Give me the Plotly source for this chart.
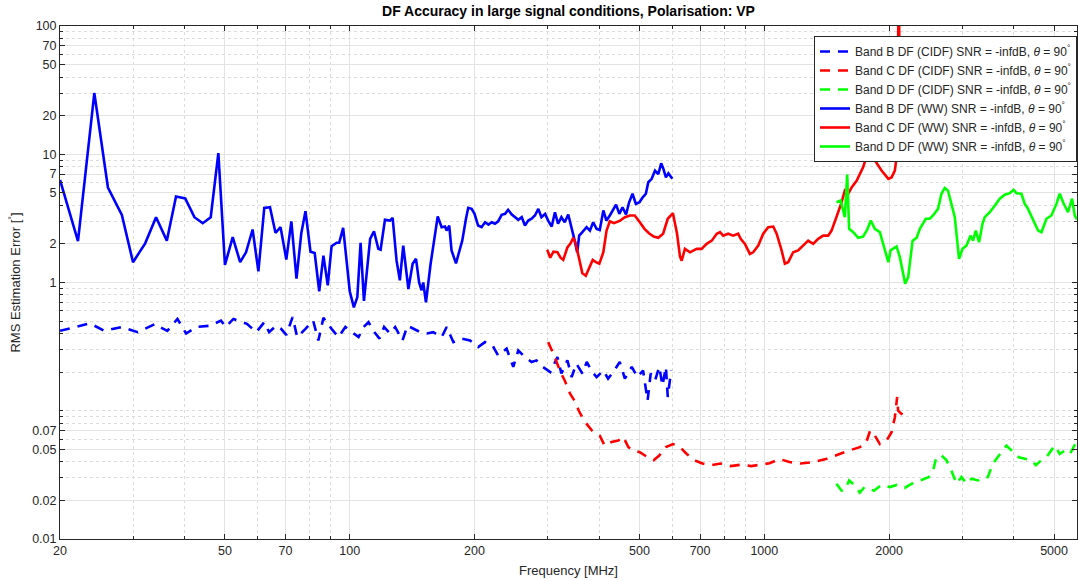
import math
import plotly.graph_objects as go

# ---------------- data (frequency MHz, RMS error deg) ----------------
band_b_cidf = [(20,0.42),(23.6,0.48),(25.6,0.42),(28.2,0.45),(30.8,0.41),(34,0.476),(34.8,0.45),(36.3,0.42),
 (38.4,0.52),(40.3,0.40),(42.7,0.45),(46.1,0.46),(48.9,0.505),(50.2,0.45),(52.4,0.52),(56.5,0.476),(59.5,0.41),
 (62.2,0.49),(63.9,0.41),(66.4,0.46),(68.3,0.435),(70.3,0.39),(72.8,0.537),(74.7,0.375),(78.2,0.435),(81.6,0.505),
 (84,0.353),(86.4,0.53),(90.4,0.435),(93.9,0.375),(97.6,0.45),(101,0.41),(105,0.375),(108,0.45),(111,0.49),
 (114,0.42),(118,0.365),(121,0.45),(125,0.40),(128.7,0.45),(134,0.353),(137.8,0.46),(142.6,0.435),(148,0.41),
 (153.5,0.40),(159,0.41),(166.6,0.375),(171.3,0.45),(177.8,0.343),(186,0.365),(195,0.353),(204,0.314),(212,0.343),
 (221,0.323),(228,0.27),(239,0.305),(248,0.22),(255,0.295),(264.6,0.262),(274.6,0.24),(282,0.247),(292,0.22),
 (304.5,0.20),(317,0.262),(324,0.195),(335,0.247),(343,0.183),(352,0.233),(364,0.195),(373,0.24),(385,0.20),
 (394,0.183),(409,0.206),(420,0.178),(432,0.20),(448,0.24),(461,0.178),(479,0.22),(494,0.183),(510,0.206),
 (523,0.12),(532,0.195),(545,0.172),(558,0.22),(568,0.157),(579,0.22),(585,0.128),(596,0.206)]

band_c_cidf = [(301,0.343),(310,0.278),(322.5,0.20),(330,0.172),(340,0.136),(350,0.117),(357,0.10),(367,0.084),
 (384,0.07),(401,0.064),(412,0.0535),(428,0.057),(444,0.0585),(457,0.0625),(470,0.052),(484,0.049),(501,0.0475),
 (523,0.0434),(541,0.0412),(558,0.0448),(579,0.052),(602,0.055),(626,0.052),(650,0.046),(678,0.0412),(709,0.0388),
 (746,0.0376),(784,0.0388),(830,0.037),(880,0.038),(930,0.037),(980,0.038),(1030,0.039),(1090,0.042),(1150,0.0398),
 (1222,0.0388),(1312,0.0398),(1415,0.0423),(1507,0.0457),(1602,0.049),(1700,0.052),(1763,0.057),(1800,0.07),
 (1838,0.066),(1900,0.055),(1972,0.0585),(2028,0.068),(2065,0.089),(2092,0.128),(2103,0.10),(2140,0.095),(2180,0.092)]

band_d_cidf = [(1493,0.027),(1536,0.0238),(1564,0.024),(1602,0.0286),(1650,0.0264),(1700,0.023),(1745,0.0254),
 (1838,0.0238),(1918,0.0264),(2010,0.0254),(2085,0.0264),(2180,0.025),(2270,0.027),(2390,0.0286),(2490,0.0303),
 (2553,0.034),(2600,0.0434),(2675,0.0448),(2750,0.0412),(2828,0.034),(2910,0.027),(2990,0.0305),(3074,0.027),
 (3160,0.0295),(3280,0.0286),(3370,0.0303),(3460,0.0303),(3560,0.0388),(3700,0.046),(3840,0.0535),(3910,0.0505),
 (3993,0.0475),(4110,0.0434),(4250,0.0423),(4410,0.0412),(4520,0.0376),(4660,0.0412),(4790,0.0434),(4930,0.049),
 (5020,0.0535),(5160,0.046),(5310,0.049),(5460,0.046),(5560,0.052),(5680,0.0585)]

band_b_ww = [(20,6.3),(22.1,2.1),(24.2,30),(26.1,5.5),(28.2,3.37),(30,1.44),(32.1,2.02),(34.1,3.23),(36.2,2.12),
 (38.1,4.68),(40.1,4.53),(42.2,3.23),(44.2,2.9),(46.2,3.23),(48.2,10.2),(50,1.37),(52.2,2.26),(54.4,1.44),(56.2,1.72),
 (58.3,2.59),(60.2,1.22),(62.2,3.82),(64.2,3.86),(66.2,2.44),(68.1,2.70),(70.3,1.51),(72.3,3.0),(74.4,1.07),
 (76.4,2.42),(78.2,3.6),(80.4,1.74),(82.3,1.70),(84.4,0.855),(86.4,1.62),(88.5,0.95),(90.4,1.92),(93,2.04),
 (94.3,2.04),(96.4,2.67),(100,0.855),(102.3,0.64),(104.3,0.77),(106.2,2.04),(108.2,0.72),(112,2.19),(114.4,2.51),
 (117.2,1.83),(118.7,1.80),(121.6,3.08),(125,3.04),(126.9,3.19),(129.7,1.48),(132.1,1.04),(134.6,1.94),(138.5,0.89),
 (141.8,1.40),(144.5,1.53),(147,1.0),(149,0.87),(150.4,1.0),(152.7,0.70),(156.7,1.40),(163,3.27),(166.6,2.70),
 (169.7,2.73),(171.3,2.54),(173.8,2.78),(176,1.78),(180.4,1.41),(184.4,1.88),(186.8,2.12),(190.7,3.14),(193.1,3.82),
 (196.8,3.75),(200,3.43),(204,2.78),(208,2.70),(212,2.95),(216,2.83),(220,2.95),(224,2.87),(228,3.0),(232.5,3.37),
 (237,3.43),(241,3.69),(246,3.39),(250,3.27),(255,3.08),(260,3.23),(264.6,2.78),(269.5,3.04),(274.6,3.14),
 (279.7,3.33),(285,3.75),(290,3.23),(296,3.43),(301,3.04),(307,2.73),(312.6,3.53),(318,2.87),(324,3.23),(330,2.95),
 (336.6,3.39),(343,2.70),(348,2.19),(353.7,1.72),(357.7,2.32),(364,2.47),(372.7,2.70),(379.6,2.54),(386.6,2.95),
 (394,2.62),(401,2.57),(409,3.65),(416,3.04),(424,3.33),(432,3.75),(439,4.05),(447,3.43),(455,3.86),(464,3.39),
 (472,4.22),(481,4.92),(490,4.10),(500,4.22),(509,4.62),(518,4.92),(525,6.05),(535,6.43),(545,7.46),(555,7.0),
 (564,8.5),(571,7.7),(579,6.6),(587,7.1),(600,6.43)]

band_c_ww = [(299.5,1.80),(304.5,1.56),(310,1.74),(317,1.72),(322.5,1.56),(327.4,1.50),(335,1.88),(341,2.02),
 (346,2.23),(350,2.06),(357,1.57),(364,1.18),(371,1.13),(378,1.32),(385.5,1.50),(392.6,1.44),(400,1.40),(409,1.72),
 (416.4,2.54),(424,3.0),(434,2.90),(449,3.04),(461,3.23),(474,3.33),(487,3.33),(501,2.95),(514,2.62),(527,2.42),
 (541,2.28),(555,2.23),(570,2.40),(585,3.14),(602,3.47),(616,2.40),(626,1.6),(632,1.48),(643.5,1.83),(662,1.72),
 (687,1.83),(706,1.83),(726,2.0),(747,2.12),(768,2.40),(782,2.47),(796,2.32),(818,2.40),(841,2.32),(865,2.40),
 (877,2.19),(898,2.0),(923,1.67),(940,1.72),(967,1.94),(994,2.40),(1022,2.70),(1051,2.73),(1071,2.40),(1101,1.78),
 (1121,1.40),(1142,1.44),(1174,1.72),(1207,1.78),(1241,1.94),(1276,2.12),(1312,2.0),(1349,2.19),(1387,2.32),
 (1426,2.32),(1453,2.54),(1480,2.95),(1507,3.53),(1536,4.22),(1564,5.2),(1594,4.92),(1624,5.5),(1670,6.2),
 (1731,7.9),(1763,9.5),(1800,10.4),(1848,8.95),(1918,7.46),(1992,6.43),(2028,6.6),(2065,7.46),(2085,9.5),
 (2097,12.8),(2100,400),(2110,400),(2125,9.8),(2150,10.1),(2180,10.2)]

band_d_ww = [(1493,4.22),(1528,4.36),(1564,3.23),(1585,6.95),(1602,2.62),(1639,2.47),(1685,2.23),(1731,2.28),
 (1770,2.57),(1807,3.04),(1848,2.62),(1900,2.47),(1946,1.88),(1992,1.44),(2017,1.78),(2085,1.91),(2124,1.57),
 (2187,0.98),(2224,1.10),(2279,2.12),(2330,2.23),(2373,2.62),(2452,3.14),(2507,3.14),(2553,3.33),(2625,3.75),
 (2675,4.92),(2725,5.46),(2775,5.2),(2828,4.10),(2881,3.23),(2950,1.53),(3007,1.83),(3074,1.94),(3143,2.32),
 (3189,2.12),(3237,2.54),(3297,2.06),(3360,2.87),(3403,3.23),(3499,3.53),(3599,3.98),(3699,4.5),(3803,4.83),
 (3910,4.97),(3993,5.28),(4058,4.97),(4172,4.92),(4250,4.10),(4328,3.75),(4450,3.04),(4576,2.54),(4663,2.47),
 (4793,3.14),(4928,3.33),(5067,4.10),(5161,4.92),(5257,4.22),(5404,3.53),(5526,4.5),(5610,3.33),(5680,3.1)]

x_ticks = [20, 50, 70, 100, 200, 500, 700, 1000, 2000, 5000]
x_minor = [30, 40, 60, 80, 90, 300, 400, 600, 800, 900, 3000, 4000]
y_ticks = [0.01, 0.02, 0.05, 0.07, 1, 2, 5, 7, 10, 20, 50, 70, 100]
y_minor = [0.03, 0.04, 0.06, 0.08, 0.09, 0.1, 0.2, 0.3, 0.4, 0.5, 0.6, 0.7, 0.8, 0.9,
           3, 4, 6, 8, 9, 30, 40, 60, 80, 90]

series = [
    ("Band B DF (CIDF) SNR = -infdB, <i>θ</i> = 90<sup>°</sup>", band_b_cidf, "#0000ff", "10px,8px"),
    ("Band C DF (CIDF) SNR = -infdB, <i>θ</i> = 90<sup>°</sup>", band_c_cidf, "#ff0000", "10px,8px"),
    ("Band D DF (CIDF) SNR = -infdB, <i>θ</i> = 90<sup>°</sup>", band_d_cidf, "#00ff00", "10px,8px"),
    ("Band B DF (WW) SNR = -infdB, <i>θ</i> = 90<sup>°</sup>", band_b_ww, "#0000ff", "solid"),
    ("Band C DF (WW) SNR = -infdB, <i>θ</i> = 90<sup>°</sup>", band_c_ww, "#ff0000", "solid"),
    ("Band D DF (WW) SNR = -infdB, <i>θ</i> = 90<sup>°</sup>", band_d_ww, "#00ff00", "solid"),
]

fig = go.Figure()
for name, pts, color, dash in series:
    fig.add_trace(go.Scatter(
        x=[p[0] for p in pts], y=[p[1] for p in pts], mode="lines", name=name,
        line=dict(color=color, width=2.6, dash=dash)))

axis_col = "#262626"
font_fam = "Liberation Sans, Arial, sans-serif"

fig.update_layout(
    width=1078, height=580,
    margin=dict(l=60, r=1, t=26, b=41, autoexpand=False),
    paper_bgcolor="white", plot_bgcolor="white",
    font=dict(family=font_fam, size=12, color=axis_col),
    title=dict(text="<b>DF Accuracy in large signal conditions, Polarisation: VP</b>",
               x=0.5, xref="paper", xanchor="center", y=1 - 11 / 580, yanchor="middle",
               font=dict(size=14, color="#000000")),
    showlegend=True,
    legend=dict(x=1, xanchor="right", y=(539 - 36) / 513, yanchor="top",
                bgcolor="white", bordercolor=axis_col, borderwidth=1,
                font=dict(size=12, color=axis_col), tracegroupgap=0),
)

fig.update_xaxes(
    type="log", range=[math.log10(20), math.log10(5680)],
    tickvals=x_ticks, ticktext=[str(v) for v in x_ticks],
    ticks="inside", ticklen=5, tickcolor=axis_col,
    showline=True, linecolor=axis_col, linewidth=1, mirror="allticks",
    showgrid=True, gridcolor="#e3e3e3", gridwidth=1,
    minor=dict(tickvals=x_minor, ticks="inside", ticklen=3, tickcolor=axis_col,
               showgrid=True, gridcolor="#dcdcdc", griddash="dot", gridwidth=1),
    zeroline=False,
    title=dict(text="Frequency [MHz]", standoff=8, font=dict(size=13, color=axis_col)),
    tickfont=dict(size=12.5, color=axis_col),
)
fig.update_yaxes(
    type="log", range=[-2, 2],
    tickvals=y_ticks, ticktext=[("%g" % v) for v in y_ticks],
    ticks="inside", ticklen=5, tickcolor=axis_col,
    showline=True, linecolor=axis_col, linewidth=1, mirror="allticks",
    showgrid=True, gridcolor="#e3e3e3", gridwidth=1,
    minor=dict(tickvals=y_minor, ticks="inside", ticklen=3, tickcolor=axis_col,
               showgrid=True, gridcolor="#dcdcdc", griddash="dot", gridwidth=1),
    zeroline=False,
    title=dict(text="RMS Estimation Error [<sup>°</sup>]", standoff=8, font=dict(size=13, color=axis_col)),
    tickfont=dict(size=12.5, color=axis_col),
)

fig.write_html("out.html", config={"displayModeBar": False},
               post_script="document.body.style.margin='0';")
